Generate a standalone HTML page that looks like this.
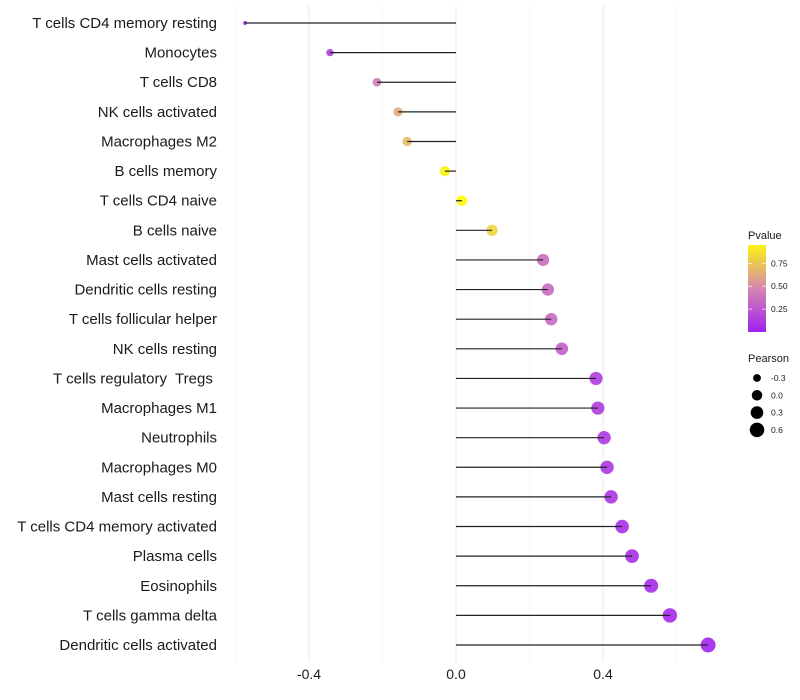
<!DOCTYPE html>
<html><head><meta charset="utf-8"><style>
body{margin:0;background:#fff;}
svg{display:block;font-family:"Liberation Sans",Arial,sans-serif;}
</style></head><body>
<svg id="chart" width="800" height="700"></svg>
<script>
const categories=["T cells CD4 memory resting","Monocytes","T cells CD8","NK cells activated","Macrophages M2","B cells memory","T cells CD4 naive","B cells naive","Mast cells activated","Dendritic cells resting","T cells follicular helper","NK cells resting","T cells regulatory  Tregs ","Macrophages M1","Neutrophils","Macrophages M0","Mast cells resting","T cells CD4 memory activated","Plasma cells","Eosinophils","T cells gamma delta","Dendritic cells activated"];
const pearson=[-0.574,-0.343,-0.215,-0.158,-0.133,-0.030,0.016,0.098,0.237,0.250,0.259,0.288,0.381,0.386,0.403,0.411,0.422,0.452,0.479,0.531,0.582,0.686];
const pvalues=[0.03,0.15,0.45,0.65,0.72,0.96,0.98,0.82,0.38,0.36,0.36,0.3,0.14,0.13,0.12,0.11,0.1,0.08,0.07,0.05,0.04,0.02];
const xTicks=[-0.4,0,0.4];
const xTickLabels=["-0.4","0.0","0.4"];
const xMinor=[-0.6,-0.2,0.2,0.6];
const pTicks=[0.25,0.5,0.75];
const sizeLegend=[-0.3,0.0,0.3,0.6];

const NS="http://www.w3.org/2000/svg";
const svg=document.getElementById('chart');
function mk(tag,attrs,parent){const e=document.createElementNS(NS,tag);for(const k in attrs)e.setAttribute(k,attrs[k]);(parent||svg).appendChild(e);return e;}
const x=v=>456+v*367.5;
const y=i=>23+i*(622/21);
const r=v=>Math.sqrt(Math.max(1,27.7+v*41.3));
function lerp(a,b,t){return a.map((c,i)=>Math.round(c+(b[i]-c)*t));}
function pcol(p){const s0=[160,32,240],s1=[212,135,175],s2=[255,255,0];
  const c=p<0.5?lerp(s0,s1,p/0.5):lerp(s1,s2,(p-0.5)/0.5);return `rgb(${c.join(',')})`;}

xMinor.forEach(v=>{const l=mk('line',{x1:x(v),x2:x(v),y1:5,y2:662,stroke:'#f2f2f2','stroke-width':0.6});
});
xTicks.forEach((v,i)=>{const l=mk('line',{x1:x(v),x2:x(v),y1:5,y2:662,stroke:'#ebebeb','stroke-width':1.1});

const t=mk('text',{x:x(v),y:679,'text-anchor':'middle','font-size':14,fill:'#1a1a1a'});t.textContent=xTickLabels[i];
});

categories.forEach((c,i)=>{
 const t=mk('text',{x:217,y:y(i)+5,'text-anchor':'end','font-size':15,fill:'#1a1a1a'});
 t.setAttributeNS('http://www.w3.org/XML/1998/namespace','xml:space','preserve');
 t.style.whiteSpace='pre';
 t.textContent=c;
 
 const pt=mk('circle',{cx:x(pearson[i]),cy:y(i),r:r(pearson[i]),fill:pcol(pvalues[i]),'fill-opacity':0.9});
 
 const ln=mk('line',{x1:x(0),x2:x(pearson[i]),y1:y(i),y2:y(i),stroke:'#222','stroke-width':1.2});
 
});

const lt=mk('text',{x:748,y:239,'font-size':11,fill:'#1a1a1a'});lt.textContent='Pvalue';

const defs=mk('defs',{});const g=mk('linearGradient',{id:'pg',x1:0,y1:1,x2:0,y2:0},defs);
[[0,0],[0.5,0.5],[1,0.95]].forEach(([o,p])=>mk('stop',{offset:o,'stop-color':pcol(p)},g));
const pTop=245,pBot=332,pMax=0.95;
const pY=p=>pBot-(p/pMax)*(pBot-pTop);
const bar=mk('rect',{x:748,y:pTop,width:18,height:pBot-pTop,fill:'url(#pg)'});

pTicks.forEach(p=>{mk('line',{x1:748,x2:752,y1:pY(p),y2:pY(p),stroke:'#fff','stroke-width':0.7});mk('line',{x1:762,x2:766,y1:pY(p),y2:pY(p),stroke:'#fff','stroke-width':0.7});
 const t=mk('text',{x:771,y:pY(p)+3,'font-size':8.5,fill:'#1a1a1a'});t.textContent=p.toFixed(2);
 });

const st=mk('text',{x:748,y:362,'font-size':11,fill:'#1a1a1a'});st.textContent='Pearson';

sizeLegend.forEach((v,i)=>{const cy=378+i*17.3;
 const c=mk('circle',{cx:757,cy:cy,r:r(v),fill:'#000'});
 
 const t=mk('text',{x:771,y:cy+3,'font-size':8.5,fill:'#1a1a1a'});t.textContent=v.toFixed(1);
 });
</script>
</body></html>
